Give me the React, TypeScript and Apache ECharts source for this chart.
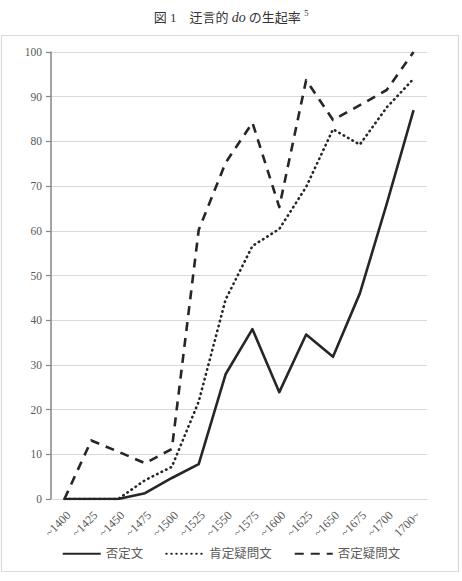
import React, { useEffect, useRef } from "react";
import * as echarts from "echarts";

const categories = ["~1400", "~1425", "~1450", "~1475", "~1500", "~1525", "~1550", "~1575", "~1600", "~1625", "~1650", "~1675", "~1700", "1700~"];
const negDecl = [0, 0, 0, 1.3, 4.7, 7.8, 27.9, 38.0, 23.9, 36.8, 31.8, 46.0, 66.0, 87.0];
const posInterrog = [0, 0, 0, 4.2, 7.2, 21.8, 44.6, 56.6, 60.4, 69.8, 82.7, 79.3, 87.6, 94.0];
const negInterrog = [0, 13.1, 10.6, 8.0, 11.2, 60.2, 75.2, 84.2, 65.3, 93.7, 84.8, 88.1, 91.5, 100];
const seriesNames = ["否定文", "肯定疑問文", "否定疑問文"];

const FONT = "'Liberation Serif', 'DejaVu Serif', 'Noto Sans CJK JP', serif";
const LINE = "#262626";

export default function App() {
  const ref = useRef<HTMLDivElement>(null);
  useEffect(() => {
    if (!ref.current) return;
    const chart = echarts.init(ref.current, null, { renderer: "svg" });
    const mkSeries = (name: string, data: number[], type: any, cap: any) => ({
      name,
      type: "line",
      data,
      showSymbol: false,
      symbol: "none",
      lineStyle: { color: LINE, width: 2.6, type, cap, join: "round" },
      itemStyle: { color: LINE },
    });
    chart.setOption({
      animation: false,
      backgroundColor: "#ffffff",
      textStyle: { fontFamily: FONT },
      title: {
        text: "図 1　迂言的 {i|do} の生起率 {sup|5}",
        left: "center",
        top: 4,
        textStyle: {
          fontFamily: FONT,
          fontSize: 13,
          fontWeight: "normal",
          color: "#333",
          rich: {
            i: { fontFamily: FONT, fontSize: 14, fontStyle: "italic", color: "#333" },
            sup: { fontFamily: FONT, fontSize: 8.5, color: "#333", verticalAlign: "top", padding: [0, 0, 8, 0] },
          },
        },
      },
      graphic: [
        {
          type: "rect",
          shape: { x: 1.5, y: 35.5, width: 457, height: 536 },
          style: { fill: "none", stroke: "#d9d9d9", lineWidth: 1.2 },
          silent: true,
        },
      ],
      legend: {
        bottom: 16,
        left: "center",
        itemWidth: 38,
        itemHeight: 12,
        itemGap: 22,
        itemStyle: { opacity: 0 },
        textStyle: { fontFamily: FONT, fontSize: 12.5, color: "#595959" },
        data: seriesNames,
      },
      grid: { left: 51, right: 35, top: 52, bottom: 82 },
      xAxis: {
        type: "category",
        data: categories,
        boundaryGap: true,
        axisLine: { show: true, lineStyle: { color: "#d9d9d9", width: 1.2 } },
        axisTick: { show: false },
        axisLabel: {
          rotate: 45,
          interval: 0,
          margin: 10,
          verticalAlign: "top",
          fontFamily: FONT,
          fontSize: 12,
          color: "#595959",
        },
      },
      yAxis: {
        type: "value",
        min: 0,
        max: 100,
        interval: 10,
        axisLine: { show: true, lineStyle: { color: "#868686", width: 1.5 } },
        axisTick: { show: true, length: 5, lineStyle: { color: "#868686", width: 1.2 } },
        axisLabel: { margin: 9, fontFamily: FONT, fontSize: 11.5, color: "#595959" },
        splitLine: { show: true, lineStyle: { color: "#d9d9d9", width: 1.2 } },
      },
      series: [
        mkSeries(seriesNames[0], negDecl, "solid", "butt"),
        mkSeries(seriesNames[1], posInterrog, [0.5, 4.5], "round"),
        mkSeries(seriesNames[2], negInterrog, [9, 7], "butt"),
      ],
    });
    return () => chart.dispose();
  }, []);
  return (
    <div
      ref={ref}
      style={{ position: "fixed", left: 0, top: 0, width: 462, height: 581 }}
    />
  );
}
